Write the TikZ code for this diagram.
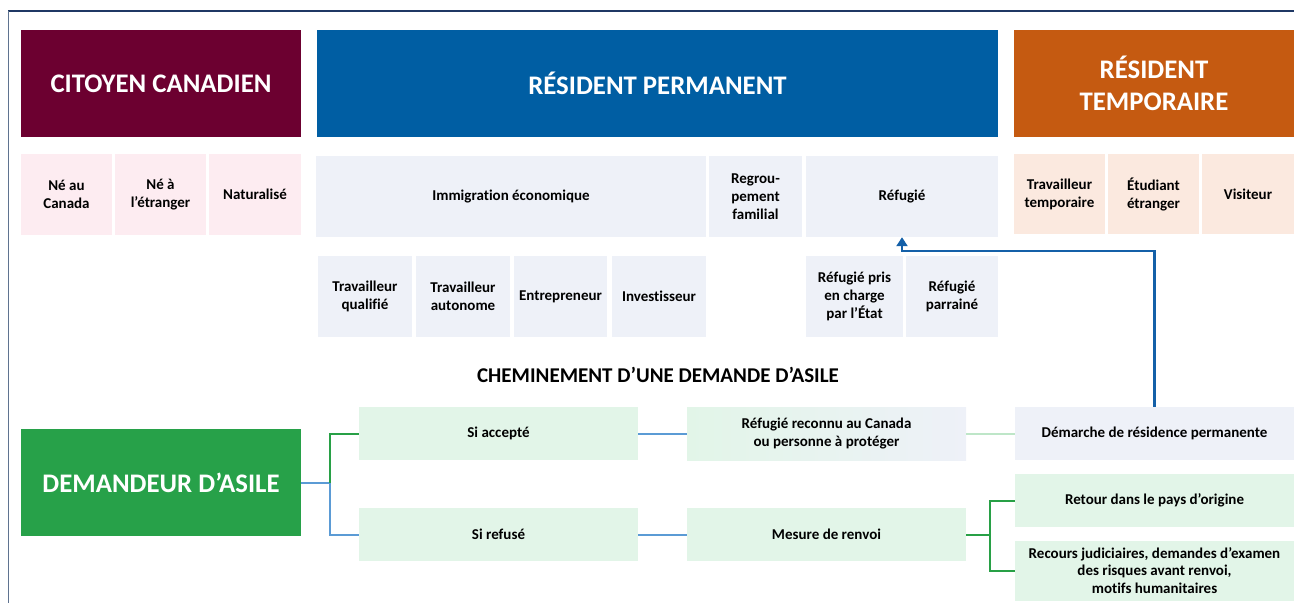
\documentclass[tikz,border=0pt]{standalone}
\usepackage{fontspec}
\setmainfont{Carlito}[Ligatures=NoCommon]
\usetikzlibrary{arrows.meta}
\definecolor{citc}{RGB}{108,0,48}
\definecolor{permc}{RGB}{0,94,163}
\definecolor{tempc}{RGB}{197,90,17}
\definecolor{pinkl}{RGB}{253,236,241}
\definecolor{bluel}{RGB}{238,241,248}
\definecolor{orangel}{RGB}{251,233,223}
\definecolor{demc}{RGB}{39,161,73}
\definecolor{greenl}{RGB}{226,245,232}
\definecolor{arrc}{RGB}{20,96,168}
\definecolor{connb}{RGB}{91,155,213}
\definecolor{conng}{RGB}{40,160,70}
\definecolor{connlg}{RGB}{190,230,200}
\definecolor{framet}{RGB}{31,56,100}
\definecolor{framel}{RGB}{95,115,144}
\tikzset{
  hdr/.style={draw=none, inner sep=0pt, text=white, align=center,
    font=\fontsize{26.8}{32}\selectfont\bfseries},
  sub/.style={draw=none, inner sep=0pt, align=center,
    font=\fontsize{15}{18}\selectfont\bfseries},
  flow/.style={draw=none, inner sep=0pt, align=center, fill=greenl,
    minimum width=279pt, minimum height=53pt,
    font=\fontsize{15}{17.5}\selectfont\bfseries},
  cb/.style={draw=connb, line width=2pt},
  cg/.style={draw=conng, line width=2pt},
  clg/.style={draw=connlg, line width=2pt},
  arr/.style={draw=arrc, line width=2.2pt, -{Triangle[length=9pt,width=11pt]}},
}
\begin{document}
\begin{tikzpicture}[x=1pt,y=-1pt]
\useasboundingbox (0,0) rectangle (1294,603);
% frame
\draw[framet, line width=1.6pt] (8,11) -- (1294,11);
\draw[framel, line width=1.6pt] (8.5,10.5) -- (8.5,603);
% headers
\node[hdr, fill=citc, minimum width=280pt, minimum height=107pt] (cit) at (161,83.5) {CITOYEN CANADIEN};
\node[hdr, fill=permc, minimum width=681pt, minimum height=107pt] (perm) at (657.5,83.5) {RÉSIDENT PERMANENT};
\node[hdr, fill=tempc, minimum width=280pt, minimum height=107pt] (temp) at (1154,83.5) {RÉSIDENT\\TEMPORAIRE};
% citizen subcategories
\node[sub, fill=pinkl, minimum width=91pt, minimum height=81pt] (ne1) at (66.5,194.5) {Né au\\Canada};
\node[sub, fill=pinkl, minimum width=91pt, minimum height=81pt] (ne2) at (160.5,194.5) {Né à\\l’étranger};
\node[sub, fill=pinkl, minimum width=92pt, minimum height=81pt] (nat) at (255,194.5) {Naturalisé};
% permanent subcategories
\node[sub, fill=bluel, minimum width=390pt, minimum height=81pt] (eco) at (511,196.5) {Immigration économique};
\node[sub, fill=bluel, minimum width=93pt, minimum height=81pt] (reg) at (755.5,196.5) {Regrou-\\pement\\familial};
\node[sub, fill=bluel, minimum width=192pt, minimum height=81pt] (ref) at (902,196.5) {Réfugié};
% temporary subcategories
\node[sub, fill=orangel, minimum width=91pt, minimum height=80pt] (tt) at (1059.5,194) {Travailleur\\temporaire};
\node[sub, fill=orangel, minimum width=91pt, minimum height=80pt] (etu) at (1153.5,194) {Étudiant\\étranger};
\node[sub, fill=orangel, minimum width=92pt, minimum height=80pt] (vis) at (1248,194) {Visiteur};
% second row
\node[sub, fill=bluel, minimum width=94pt, minimum height=81pt] (tq) at (365,296.5) {Travailleur\\qualifié};
\node[sub, fill=bluel, minimum width=94pt, minimum height=81pt] (ta) at (463,296.5) {Travailleur\\autonome};
\node[sub, fill=bluel, minimum width=93pt, minimum height=81pt] (ent) at (560.5,296.5) {Entrepreneur};
\node[sub, fill=bluel, minimum width=94pt, minimum height=81pt] (inv) at (659,296.5) {Investisseur};
\node[sub, fill=bluel, minimum width=97pt, minimum height=81pt] (rpe) at (854.5,296.5) {Réfugié pris\\en charge\\par l’État};
\node[sub, fill=bluel, minimum width=92pt, minimum height=81pt] (rpa) at (952,296.5) {Réfugié\\parrainé};
% title
\node[inner sep=0pt, font=\fontsize{21}{24}\selectfont\bfseries] (title) at (658,375) {CHEMINEMENT D’UNE DEMANDE D’ASILE};
% asylum flow
\node[hdr, fill=demc, minimum width=280pt, minimum height=107pt] (dem) at (161,482.5) {DEMANDEUR D’ASILE};
\node[flow] (acc) at (498.5,433.5) {Si accepté};
\node[flow] (refu) at (498.5,534.5) {Si refusé};
\node[flow, left color=greenl, right color=bluel] (reco) at (826.5,433.5) {Réfugié reconnu au Canada\\ou personne à protéger};
\node[flow] (mes) at (826.5,534.5) {Mesure de renvoi};
\node[flow, fill=bluel] (dpr) at (1154.5,433.5) {Démarche de résidence permanente};
\node[flow] (ret) at (1154.5,500.5) {Retour dans le pays d’origine};
\node[flow, minimum height=60pt] (rec) at (1154.5,570.5) {Recours judiciaires, demandes d’examen\\des risques avant renvoi,\\motifs humanitaires};
% connectors
\coordinate (j1) at (330,482.5);
\coordinate (j2) at (990,534.5);
\coordinate (up) at (1000,251);
\draw[cb] (dem.east) -- (j1);
\draw[cb] (j1) |- (refu.west);
\draw[cg] (j1) |- (acc.west);
\draw[cb] (acc.east) -- (reco.west);
\draw[cb] (refu.east) -- (mes.west);
\draw[clg] (reco.east) -- (dpr.west);
\draw[cg] (mes.east) -- (j2);
\draw[cg] (j2) |- (ret.west);
\draw[cg] (j2) |- (rec.west);
\draw[arr] (dpr.north) |- (up) -| (ref.south);
\end{tikzpicture}
\end{document}
